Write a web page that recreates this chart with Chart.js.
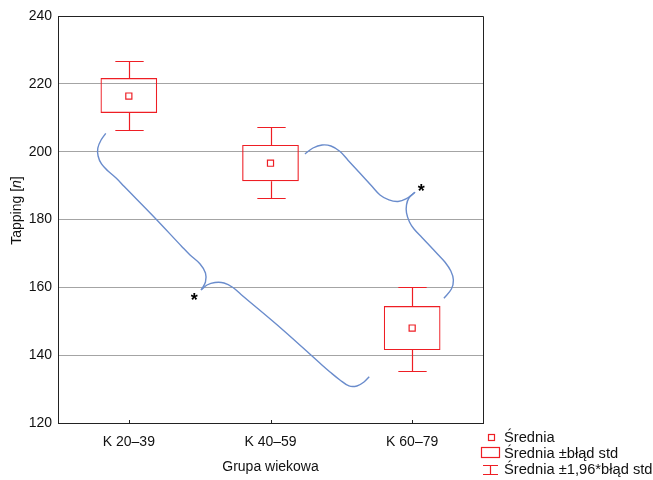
<!DOCTYPE html>
<html>
<head>
<meta charset="utf-8">
<script src="https://cdn.jsdelivr.net/npm/chart.js@4"></script>
<style>
html,body{margin:0;padding:0;background:#fff;}
#wrap{width:653px;height:480px;}
</style>
</head>
<body>
<div id="wrap"><canvas id="c" width="653" height="480"></canvas></div>
<script>
// ---- data ----
const categories = ['K 20–39', 'K 40–59', 'K 60–79'];
const means = [216.4, 196.6, 148.0];
const boxLow = [211.4, 191.3, 141.5];
const boxHigh = [221.7, 202.0, 154.5];
const whiskerLow = [206.4, 186.3, 135.3];
const whiskerHigh = [226.7, 207.3, 160.1];
const yTicks = [120, 140, 160, 180, 200, 220, 240];
const legendLabels = ['Średnia', 'Średnia ±błąd std', 'Średnia ±1,96*błąd std'];
const xTitle = 'Grupa wiekowa';
const yTitleParts = ['Tapping [', 'n', ']'];

// brace annotation curves (x = category index, y = value)
const brace1a = [[-0.163,205.42],[-0.196,203.44],[-0.219,201.08],[-0.217,198.73],[-0.193,196.37],[-0.147,194.30],[-0.090,192.24],[-0.034,189.79],[0.171,181.04],[0.375,171.99],[0.432,169.54],[0.503,166.89],[0.541,164.23],[0.541,161.58],[0.510,159.22]];
const brace1b = [[0.510,159.22],[0.552,160.69],[0.608,161.43],[0.672,161.29],[0.735,159.96],[0.792,157.89],[1.088,147.43],[1.363,137.11],[1.420,135.05],[1.490,132.69],[1.554,130.92],[1.610,130.92],[1.660,132.10],[1.697,133.66]];
const brace2a = [[1.243,199.32],[1.300,201.08],[1.364,201.97],[1.427,201.67],[1.491,200.05],[1.547,197.49],[1.632,193.64],[1.716,189.79],[1.773,187.23],[1.836,185.76],[1.900,185.31],[1.956,186.05],[2.020,188.02]];
const brace2b = [[2.020,188.02],[1.977,186.34],[1.960,184.28],[1.960,181.92],[1.981,179.27],[2.013,177.21],[2.069,174.70],[2.126,172.19],[2.182,169.69],[2.231,167.48],[2.273,164.82],[2.291,162.17],[2.277,159.52],[2.224,156.78]];
const asterisks = [[0.462,157.4],[2.064,189.6]];

const RED = 'rgb(238,30,36)';
const BLUE = 'rgb(106,140,204)';
const FONT = '"Liberation Sans", Arial, sans-serif';

const toPts = a => a.map(p => ({x: p[0], y: p[1]}));
const braceDs = arr => ({
  type: 'line', xAxisID: 'xl', yAxisID: 'y', data: toPts(arr), borderColor: BLUE, borderWidth: 1.4,
  pointRadius: 0, tension: 0.35, fill: false, order: 5
});

const decor = {
  id: 'decor',
  afterDatasetsDraw(chart) {
    const ctx = chart.ctx, xs = chart.scales.x, ys = chart.scales.y, xl = chart.scales.xl;
    const ca = chart.chartArea;
    ctx.save();
    // whiskers
    ctx.strokeStyle = RED; ctx.lineWidth = 1.2;
    const catW = (ca.right - ca.left) / categories.length;
    const capHalf = catW * 0.1;
    for (let i = 0; i < categories.length; i++) {
      const x = Math.round(xs.getPixelForValue(i)) + 0.5;
      const yb = ys.getPixelForValue(boxHigh[i]);
      const yw = Math.round(ys.getPixelForValue(whiskerHigh[i])) + 0.5;
      const yb2 = ys.getPixelForValue(boxLow[i]);
      const yw2 = Math.round(ys.getPixelForValue(whiskerLow[i])) + 0.5;
      ctx.beginPath();
      ctx.moveTo(x, yb); ctx.lineTo(x, yw);
      ctx.moveTo(x - capHalf, yw); ctx.lineTo(x + capHalf, yw);
      ctx.moveTo(x, yb2); ctx.lineTo(x, yw2);
      ctx.moveTo(x - capHalf, yw2); ctx.lineTo(x + capHalf, yw2);
      ctx.stroke();
    }
    // frame top & right
    ctx.strokeStyle = '#222'; ctx.lineWidth = 1;
    ctx.beginPath();
    ctx.moveTo(ca.left, Math.round(ca.top) + 0.5);
    ctx.lineTo(Math.round(ca.right) + 0.5, Math.round(ca.top) + 0.5);
    ctx.lineTo(Math.round(ca.right) + 0.5, ca.bottom);
    ctx.stroke();
    // inner x ticks
    ctx.beginPath();
    for (let i = 0; i < categories.length; i++) {
      const x = Math.round(xs.getPixelForValue(i)) + 0.5;
      ctx.moveTo(x, ca.bottom); ctx.lineTo(x, ca.bottom - 3);
    }
    ctx.stroke();
    // asterisks
    ctx.fillStyle = '#000';
    ctx.font = 'bold 18px ' + FONT;
    ctx.textAlign = 'center'; ctx.textBaseline = 'alphabetic';
    asterisks.forEach(a => {
      ctx.fillText('*', xl.getPixelForValue(a[0]), ys.getPixelForValue(a[1]) + 10);
    });
    // axis titles
    ctx.font = '14px ' + FONT;
    ctx.textAlign = 'center'; ctx.textBaseline = 'middle';
    ctx.fillStyle = '#111';
    ctx.fillText(xTitle, (ca.left + ca.right) / 2, 467);
    // y title rotated with italic n
    ctx.save();
    ctx.translate(17, (ca.top + ca.bottom) / 2 - 9);
    ctx.rotate(-Math.PI / 2);
    const fonts = ['14px ' + FONT, 'italic 14px ' + FONT, '14px ' + FONT];
    let widths = yTitleParts.map((t, k) => { ctx.font = fonts[k]; return ctx.measureText(t).width; });
    let total = widths.reduce((s, w) => s + w, 0);
    let cx = -total / 2;
    ctx.textAlign = 'left';
    yTitleParts.forEach((t, k) => { ctx.font = fonts[k]; ctx.fillText(t, cx, 0); cx += widths[k]; });
    ctx.restore();
    // legend
    ctx.strokeStyle = RED; ctx.lineWidth = 1.2;
    ctx.strokeRect(488.5, 434.5, 6, 6);
    ctx.strokeRect(481.5, 447.5, 18, 10);
    ctx.beginPath();
    ctx.moveTo(490.5, 465.5); ctx.lineTo(490.5, 474.5);
    ctx.moveTo(483, 465.5); ctx.lineTo(498, 465.5);
    ctx.moveTo(483, 474.5); ctx.lineTo(498, 474.5);
    ctx.stroke();
    ctx.font = '14.7px ' + FONT; ctx.textAlign = 'left'; ctx.textBaseline = 'middle';
    ctx.fillStyle = '#111';
    legendLabels.forEach((t, k) => ctx.fillText(t, 504, 437.5 + k * 16));
    ctx.restore();
  }
};

new Chart(document.getElementById('c'), {
  data: {
    labels: categories,
    datasets: [
      { type: 'bar', xAxisID: 'x', yAxisID: 'y', data: boxLow.map((v, i) => [v, boxHigh[i]]), backgroundColor: 'rgba(0,0,0,0)',
        borderColor: RED, borderWidth: 1.2, borderSkipped: false, barPercentage: 0.4, categoryPercentage: 1, grouped: false, order: 3 },
      { type: 'line', xAxisID: 'x', yAxisID: 'y', data: means, showLine: false, pointStyle: 'rect', pointRadius: 4.3,
        pointBorderColor: RED, pointBackgroundColor: '#fff', pointBorderWidth: 1.2, order: 1 },
      braceDs(brace1a), braceDs(brace1b), braceDs(brace2a), braceDs(brace2b)
    ]
  },
  options: {
    responsive: false, animation: false, events: [],
    layout: { padding: { top: 16, right: 170, left: 0, bottom: 0 } },
    plugins: { legend: { display: false }, tooltip: { enabled: false } },
    scales: {
      x: {
        type: 'category', offset: true,
        grid: { display: false },
        border: { display: true, color: '#222' },
        ticks: { padding: 3, color: '#111', font: { family: FONT, size: 14 } },
        afterFit: s => { s.height = 57; }
      },
      xl: { type: 'linear', display: false, min: -0.5, max: 2.5 },
      y: {
        min: 120, max: 240,
        afterBuildTicks: s => { s.ticks = yTicks.map(v => ({ value: v })); },
        grid: { color: ctx => (ctx.tick && (ctx.tick.value === 240 || ctx.tick.value === 120)) ? '#222' : '#a4a4a4',
                tickLength: 0, lineWidth: 1 },
        border: { display: true, color: '#222' },
        ticks: { padding: 6, color: '#111', font: { family: FONT, size: 14 } },
        afterFit: s => { s.width = 58; }
      }
    }
  },
  plugins: [decor]
});
</script>
</body>
</html>
